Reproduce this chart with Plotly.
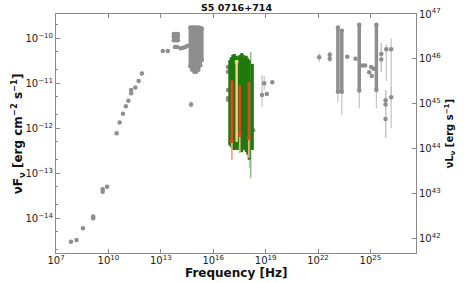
import plotly.graph_objects as go

# ---------------- data ----------------
# radio / mm / far-IR photometry
radio_nu = [7.2e7, 1.5e8, 3.5e8, 1.35e9, 1.35e9, 4.7e9, 4.7e9, 8.3e9,
            2.95e10, 4.4e10, 6.8e10, 1.0e11, 1.4e11, 2.0e11, 2.0e11,
            3.5e11, 5.4e11, 8.3e11, 1.3e13, 2.5e13]
radio_flux = [3.0e-15, 3.3e-15, 6.0e-15, 1.1e-14, 1.0e-14, 4.4e-14, 3.9e-14, 5.0e-14,
              7.8e-13, 1.35e-12, 2.1e-12, 3.1e-12, 4.1e-12, 6.0e-12, 7.1e-12,
              8.1e-12, 1.12e-11, 1.66e-11, 5.2e-11, 5.2e-11]

# IR photometry
ir_nu = [5.5e13, 7.5e13, 9.5e13, 5.5e13, 7.5e13, 9.5e13, 5.5e13, 7.5e13, 9.5e13,
         6.5e13, 8.5e13, 1.35e14, 1.9e14, 2.6e14, 3.4e14]
ir_flux = [1.25e-10, 1.25e-10, 1.25e-10, 1.08e-10, 1.08e-10, 1.08e-10, 9.0e-11, 9.0e-11, 9.0e-11,
           6.4e-11, 6.4e-11, 6.0e-11, 6.2e-11, 6.4e-11, 6.8e-11]

# optical / UV variability range (dense columns)
opt_nu = [4.9e14, 6.3e14, 8.3e14, 1.07e15, 1.41e15, 1.82e15, 2.24e15]
opt_top = [1.74e-10, 1.74e-10, 1.74e-10, 1.74e-10, 1.74e-10, 1.70e-10, 1.66e-10]
opt_bot = [2.4e-11, 2.0e-11, 1.8e-11, 1.8e-11, 2.0e-11, 2.5e-11, 3.3e-11]

# optical outlier
out_nu = [5.4e14]
out_flux = [3.4e-12]
out_lo = [2.9e-12]
out_hi = [4.0e-12]

# X-ray: grey points at the edges of the band
xe_nu = [7.0e16, 7.0e16, 7.0e16, 7.0e16, 7.0e16, 1.5e18, 1.95e18, 1.3e18]
xe_flux = [2.3e-11, 1.8e-11, 7.1e-12, 4.7e-12, 4.3e-12, 5.5e-13, 9.1e-13, 7.5e-13]
xe_bar_nu = [1.2e18]
xe_bar_lo = [1.3e-13]
xe_bar_hi = [1.17e-12]

# X-ray spectra (green)
green_nu = [8.9e16, 1.07e17, 1.32e17, 1.62e17, 1.95e17, 2.4e17, 2.9e17, 3.55e17,
            4.3e17, 5.25e17, 6.3e17, 7.8e17, 9.5e17, 1.15e18, 1.74e18]
green_top = [3.3e-11, 3.8e-11, 4.3e-11, 4.5e-11, 4.1e-11, 3.6e-11, 4.1e-11, 4.3e-11,
             4.7e-11, 4.3e-11, 3.8e-11, 4.1e-11, 3.6e-11, 3.3e-11, 2.7e-11]
green_bot = [4.2e-13, 3.8e-13, 3.3e-13, 3.3e-13, 3.6e-13, 3.3e-13, 3.8e-13, 3.3e-13,
             2.95e-13, 3.6e-13, 3.3e-13, 2.95e-13, 2.6e-13, 2.0e-13, 3.3e-13]
lgreen_nu = [1.4e18]
lgreen_top = [5.0e-11]
lgreen_bot = [7.9e-14]

# X-ray (red / tan)
red_nu = [1.17e17, 3.3e17, 1.1e18]
red_top = [1.17e-11, 9.1e-12, 1.07e-11]
red_mid = [5.2e-13, 7.1e-13, 6.0e-13]
red_bot = [2.0e-13, 2.8e-13, 2.2e-13]
tan_nu = [2.2e17]
tan_top = [3.0e-11]
tan_bot = [5.0e-13]

# hard X-ray grey points
hx_nu = [6.2e18, 8.3e18, 1.17e19, 2.4e19]
hx_flux = [5.5e-12, 1.0e-11, 5.8e-12, 1.05e-11]
hx_lo = [3.0e-12, 7.1e-12, 5.2e-12, 9.5e-12]
hx_hi = [1.53e-11, 1.45e-11, 6.5e-12, 1.15e-11]

# gamma-ray variability columns
gcol_nu = [1.38e23, 2.3e23, 2.3e24, 2.2e25]
gcol_top = [1.74e-10, 1.48e-10, 2.0e-10, 2.0e-10]
gcol_bot = [6.5e-12, 6.5e-12, 6.9e-12, 7.1e-12]
gcol_err = [3.8e-12, 2.0e-12, 2.8e-12, 2.8e-12]

# gamma-ray points
gam_nu = [1.17e22, 4.7e22, 4.7e22, 4.7e23, 1.4e24, 3.4e24, 5.0e24, 8.5e24, 1.2e25,
          1.1e25, 1.5e25, 4.2e25, 4.2e25, 8.1e25, 1.55e26, 7.4e25, 7.4e25, 7.4e25, 1.55e26]
gam_flux = [3.8e-11, 4.3e-11, 3.5e-11, 3.9e-11, 3.5e-11, 2.5e-11, 2.5e-11, 1.75e-11, 1.45e-11,
            2.3e-11, 2.1e-11, 4.5e-11, 3.4e-11, 5.7e-11, 5.7e-11, 4.2e-12, 3.4e-12, 1.6e-12, 4.9e-12]
gam_lo = [3.0e-11, 3.0e-11, 3.0e-11, 3.9e-11, 3.5e-11, 2.5e-11, 2.5e-11, 1.75e-11, 1.45e-11,
          2.3e-11, 2.1e-11, 1.8e-11, 1.8e-11, 1.12e-11, 5.5e-12, 6.1e-13, 6.1e-13, 6.1e-13, 1.0e-12]
gam_hi = [4.7e-11, 5.0e-11, 5.0e-11, 3.9e-11, 3.5e-11, 2.5e-11, 2.5e-11, 1.75e-11, 1.45e-11,
          2.3e-11, 2.1e-11, 7.9e-11, 7.9e-11, 7.4e-11, 1.0e-10, 7.1e-12, 7.1e-12, 7.1e-12, 8.4e-12]

# luminosity conversion (4 pi d^2) for the right-hand axis
LUM_FACTOR = 10 ** 56.46

x_tick_exps = [7, 10, 13, 16, 19, 22, 25]
y_tick_exps = [-14, -13, -12, -11, -10]
y2_tick_exps = [42, 43, 44, 45, 46, 47]

# ---------------- styles ----------------
GRAY = "#8e8e8e"
LGRAY = "#c4c4c4"
GREEN = "#1f7a0d"
LGREEN = "#8cc07c"
RED = "#e8441c"
LRED = "#f3a48c"
TAN = "#f6d28e"
FONT = "DejaVu Sans"


def segs(xs, lo, hi):
    X, Y = [], []
    for x, a, b in zip(xs, lo, hi):
        X += [x, x, None]
        Y += [a, b, None]
    return X, Y


def pow_label(e):
    return "10<sup>%s</sup>" % (str(e).replace("-", "−"))


fig = go.Figure()


def add_lines(xs, lo, hi, color, width):
    X, Y = segs(xs, lo, hi)
    fig.add_trace(go.Scatter(x=X, y=Y, mode="lines", line=dict(color=color, width=width),
                             hoverinfo="skip", showlegend=False))


def add_pts(xs, ys, color, size=4.5, symbol="circle"):
    fig.add_trace(go.Scatter(x=xs, y=ys, mode="markers",
                             marker=dict(color=color, size=size, symbol=symbol, line=dict(width=0)),
                             showlegend=False))


# radio -> IR
add_pts(radio_nu, radio_flux, GRAY)
add_pts(ir_nu, ir_flux, GRAY)
# optical block
add_lines(opt_nu, opt_bot, opt_top, GRAY, 3.5)
add_pts(opt_nu, opt_top, GRAY)
add_pts(opt_nu, opt_bot, GRAY)
add_lines(out_nu, out_lo, out_hi, LGRAY, 1.2)
add_pts(out_nu, out_flux, GRAY)

# X-ray
add_pts(xe_nu, xe_flux, GRAY)
add_lines(xe_bar_nu, xe_bar_lo, xe_bar_hi, LGRAY, 1.5)
add_lines(lgreen_nu, lgreen_bot, lgreen_top, LGREEN, 1.5)
add_lines(green_nu, green_bot, green_top, GREEN, 3)
add_lines(red_nu, red_mid, red_bot, LRED, 1.8)
add_lines(red_nu, red_top, red_mid, RED, 2.4)
add_pts(red_nu, red_mid, RED, size=4)
add_lines(tan_nu, tan_bot, tan_top, TAN, 2.4)
add_pts(tan_nu, tan_top, TAN, size=4)

# hard X-ray
add_lines(hx_nu, hx_lo, hx_hi, LGRAY, 1.2)
add_pts(hx_nu, hx_flux, GRAY)

# gamma-ray
add_lines(gcol_nu, gcol_err, gcol_bot, LGRAY, 1.2)
add_lines(gcol_nu, gcol_bot, gcol_top, GRAY, 3.5)
add_pts(gcol_nu, gcol_top, GRAY)
add_pts(gcol_nu, gcol_bot, GRAY)
add_lines(gam_nu, gam_lo, gam_hi, LGRAY, 1.2)
add_pts(gam_nu, gam_flux, GRAY)

# invisible trace on the luminosity axis
fig.add_trace(go.Scatter(x=radio_nu, y=[f * LUM_FACTOR for f in radio_flux], yaxis="y2",
                         mode="markers", marker=dict(opacity=0), hoverinfo="skip",
                         showlegend=False))

AX = "#8a8a8a"
TICKFONT = dict(family=FONT, size=10, color="#222222")

fig.update_layout(
    width=464, height=283,
    margin=dict(l=56, r=48, t=14, b=30),
    paper_bgcolor="white", plot_bgcolor="white",
    font=dict(family=FONT, color="#111111"),
    showlegend=False,
    xaxis=dict(type="log", range=[7, 27.61], automargin=False,
               tickvals=[10.0 ** e for e in x_tick_exps],
               ticktext=[pow_label(e) for e in x_tick_exps],
               ticks="inside", ticklen=4, tickcolor=AX, showline=True, linecolor=AX,
               linewidth=1, mirror="ticks", showgrid=False, zeroline=False,
               tickfont=TICKFONT, ticklabelstandoff=-2),
    yaxis=dict(type="log", range=[-14.771, -9.46], automargin=False,
               tickvals=[10.0 ** e for e in y_tick_exps],
               ticktext=[pow_label(e) for e in y_tick_exps],
               ticks="inside", ticklen=4, tickcolor=AX, showline=True, linecolor=AX,
               linewidth=1, showgrid=False, zeroline=False, tickfont=TICKFONT,
               minor=dict(ticks="inside", ticklen=2, tickcolor=AX, showgrid=False)),
    yaxis2=dict(type="log", range=[41.68, 47.0], automargin=False,
                tickvals=[10.0 ** e for e in y2_tick_exps],
                ticktext=[pow_label(e) for e in y2_tick_exps],
                overlaying="y", side="right", anchor="x",
                ticks="inside", ticklen=4, tickcolor=AX, showline=True, linecolor=AX,
                linewidth=1, showgrid=False, zeroline=False, tickfont=TICKFONT),
)

fig.add_annotation(text="<b>S5 0716+714</b>", xref="paper", yref="paper", x=0.5, y=1,
                   yshift=7, xanchor="center", yanchor="middle", showarrow=False,
                   font=dict(family=FONT, size=9.5, color="#111111"))
fig.add_annotation(text="<b>Frequency [Hz]</b>", xref="paper", yref="paper", x=0.5,
                   y=-0.085, xanchor="center", yanchor="middle", showarrow=False,
                   font=dict(family=FONT, size=12, color="#111111"))
fig.add_annotation(text="<b>νF<sub>ν</sub> [erg cm<sup>−2</sup> s<sup>−1</sup>]</b>",
                   xref="paper", yref="paper", x=-0.106, y=0.5, textangle=-90,
                   xanchor="center", yanchor="middle", showarrow=False,
                   font=dict(family=FONT, size=12, color="#111111"))
fig.add_annotation(text="<b>νL<sub>ν</sub> [erg s<sup>−1</sup>]</b>",
                   xref="paper", yref="paper", x=1.092, y=0.5, textangle=-90,
                   xanchor="center", yanchor="middle", showarrow=False,
                   font=dict(family=FONT, size=10, color="#111111"))

fig.write_html("out.html", config={"displayModeBar": False},
               post_script="document.body.style.margin='0';")
